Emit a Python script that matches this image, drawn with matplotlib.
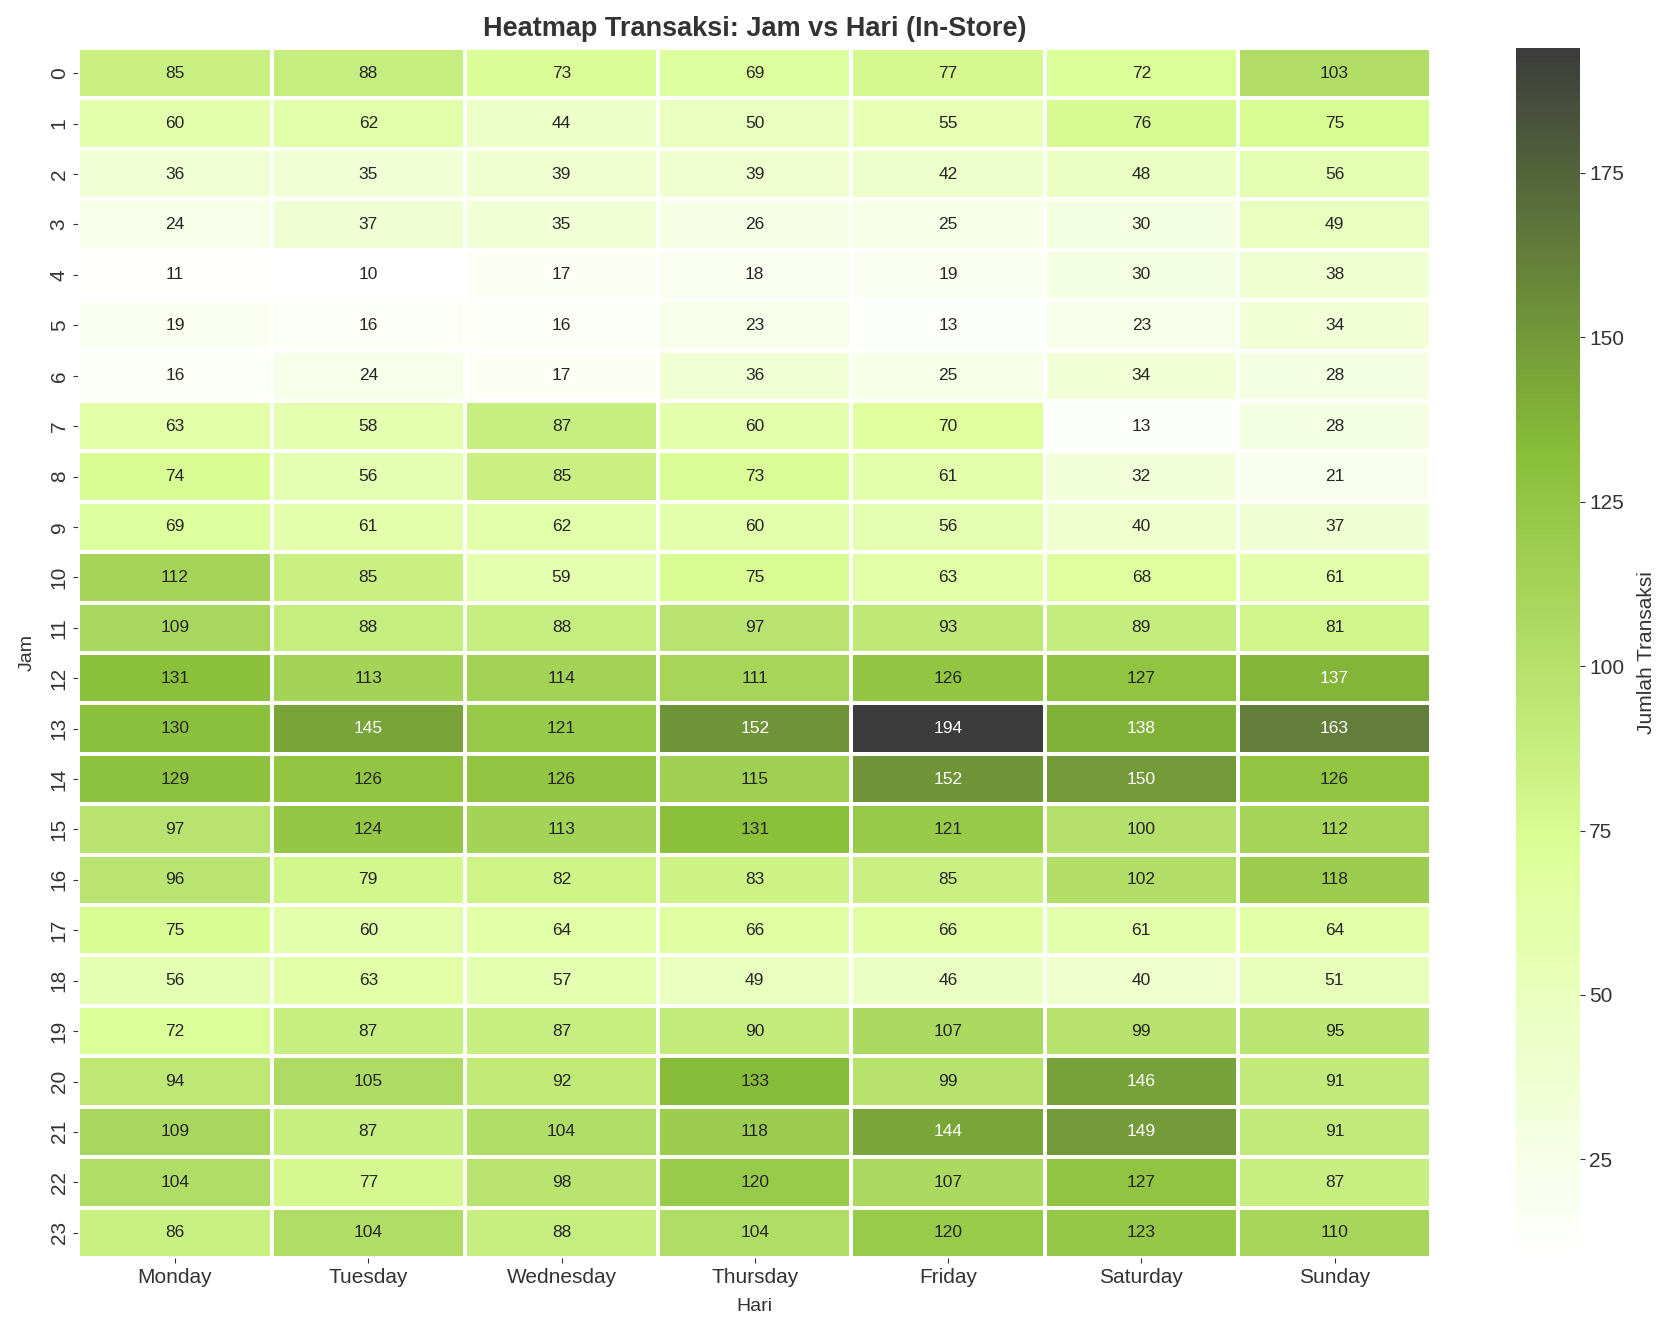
import numpy as np
import pandas as pd
import seaborn as sns
import matplotlib
matplotlib.use("Agg")
import matplotlib.pyplot as plt
from matplotlib.colors import LinearSegmentedColormap

days = ["Monday", "Tuesday", "Wednesday", "Thursday", "Friday", "Saturday", "Sunday"]
hours = list(range(24))

# transaksi per jam (baris) x hari (kolom)
counts = [
    [85, 88, 73, 69, 77, 72, 103],
    [60, 62, 44, 50, 55, 76, 75],
    [36, 35, 39, 39, 42, 48, 56],
    [24, 37, 35, 26, 25, 30, 49],
    [11, 10, 17, 18, 19, 30, 38],
    [19, 16, 16, 23, 13, 23, 34],
    [16, 24, 17, 36, 25, 34, 28],
    [63, 58, 87, 60, 70, 13, 28],
    [74, 56, 85, 73, 61, 32, 21],
    [69, 61, 62, 60, 56, 40, 37],
    [112, 85, 59, 75, 63, 68, 61],
    [109, 88, 88, 97, 93, 89, 81],
    [131, 113, 114, 111, 126, 127, 137],
    [130, 145, 121, 152, 194, 138, 163],
    [129, 126, 126, 115, 152, 150, 126],
    [97, 124, 113, 131, 121, 100, 112],
    [96, 79, 82, 83, 85, 102, 118],
    [75, 60, 64, 66, 66, 61, 64],
    [56, 63, 57, 49, 46, 40, 51],
    [72, 87, 87, 90, 107, 99, 95],
    [94, 105, 92, 133, 99, 146, 91],
    [109, 87, 104, 118, 144, 149, 91],
    [104, 77, 98, 120, 107, 127, 87],
    [86, 104, 88, 104, 120, 123, 110],
]

sns.set_style("ticks")
plt.rcParams['font.family'] = ['Liberation Sans', 'DejaVu Sans']
plt.rcParams['text.color'] = '#333333'
plt.rcParams['axes.labelcolor'] = '#333333'
plt.rcParams['xtick.color'] = '#333333'
plt.rcParams['ytick.color'] = '#333333'

df = pd.DataFrame(counts, index=hours, columns=days)

cmap = LinearSegmentedColormap.from_list(
    "instore", ["#ffffff", "#ddff99", "#88be38", "#3c3c3c"])

fig = plt.figure(figsize=(16.68, 13.34), dpi=100)
ax = fig.add_axes([0.047, 0.057, 0.811, 0.907])
cax = fig.add_axes([0.909, 0.057, 0.038, 0.907])

sns.heatmap(df, ax=ax, cbar_ax=cax, cmap=cmap, annot=True, fmt="d",
            linewidths=1.5, linecolor="white",
            annot_kws={"fontsize": 12.5},
            cbar_kws={"label": "Jumlah Transaksi"})

ax.set_title("Heatmap Transaksi: Jam vs Hari (In-Store)", fontsize=19.5,
             fontweight="bold", pad=9)
ax.set_xlabel("Hari", fontsize=14, labelpad=8)
ax.set_ylabel("Jam", fontsize=14, labelpad=10)
ax.tick_params(axis="x", labelsize=15, rotation=0)
ax.tick_params(axis="y", labelsize=15)
cax.tick_params(labelsize=15)
cax.set_ylabel("Jumlah Transaksi", fontsize=15, labelpad=9)

fig.savefig("out.png", dpi=100)
